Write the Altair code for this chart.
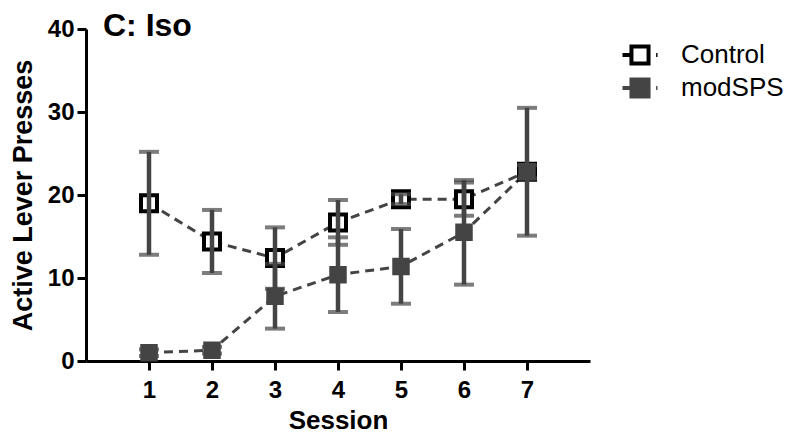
import altair as alt
import pandas as pd

sessions = [1, 2, 3, 4, 5, 6, 7]
series_names = ["Control", "modSPS"]
control_mean = [19.0, 14.4, 12.4, 16.7, 19.5, 19.5, 22.8]
control_err = [6.2, 3.8, 3.7, 2.7, 0.6, 2.0, 0.8]
mod_mean = [1.0, 1.3, 7.8, 10.4, 11.4, 15.5, 22.8]
mod_err = [0.4, 0.4, 3.9, 4.5, 4.5, 6.3, 7.7]
x_ticks = [1, 2, 3, 4, 5, 6, 7]
y_ticks = [0, 10, 20, 30, 40]

rows = []
for s, m, e in zip(sessions, control_mean, control_err):
    rows.append({"Session": s, "series": series_names[0], "mean": m, "lo": m - e, "hi": m + e})
for s, m, e in zip(sessions, mod_mean, mod_err):
    rows.append({"Session": s, "series": series_names[1], "mean": m, "lo": m - e, "hi": m + e})
df = pd.DataFrame(rows)

FONT = "Liberation Sans"
GRAY = "#444444"

x = alt.X("Session:Q", scale=alt.Scale(domain=[0, 8], nice=False),
          axis=alt.Axis(values=x_ticks, title="Session", grid=False, format="d",
                        labelPadding=8, titlePadding=5))
y = alt.Y("mean:Q", scale=alt.Scale(domain=[0, 40], nice=False),
          axis=alt.Axis(values=y_ticks, title="Active Lever Presses", grid=False, format="d",
                        titleFontSize=27, titlePadding=10))

legend_kw = dict(title=None, orient="none", legendX=538, legendY=10,
                 symbolType="M-1.25,0H-0.61 M-0.61,-0.61H0.61V0.61H-0.61Z M1.15,0H1.25",
                 symbolSize=784, symbolStrokeWidth=4,
                 labelFontSize=26, labelFont=FONT, labelColor="black",
                 labelOffset=25, rowPadding=-6)
fill_enc = alt.Fill("series:N", scale=alt.Scale(domain=series_names, range=["white", GRAY]),
                    legend=alt.Legend(**legend_kw))
stroke_enc = alt.Stroke("series:N", scale=alt.Scale(domain=series_names, range=["black", GRAY]),
                        legend=alt.Legend(**legend_kw))

base = alt.Chart(df)

lines = base.mark_line(strokeDash=[9, 6], strokeWidth=3, color=GRAY).encode(
    x=x, y=y, detail="series:N")


def errbars(name):
    d = base.transform_filter(alt.datum.series == name)
    rule = d.mark_rule(strokeWidth=4.5, color=GRAY).encode(x="Session:Q", y="lo:Q", y2="hi:Q")
    cap_lo = d.mark_tick(thickness=4, size=20, color=GRAY, orient="horizontal").encode(x="Session:Q", y="lo:Q")
    cap_hi = d.mark_tick(thickness=4, size=20, color=GRAY, orient="horizontal").encode(x="Session:Q", y="hi:Q")
    return rule + cap_lo + cap_hi


ctrl_pts = base.transform_filter(alt.datum.series == series_names[0]).mark_point(
    shape="square", filled=True, size=256, strokeWidth=4, opacity=1).encode(
    x=x, y=y, fill=fill_enc, stroke=stroke_enc)
mod_pts = base.transform_filter(alt.datum.series == series_names[1]).mark_point(
    shape="square", filled=True, size=210, strokeWidth=3, opacity=1).encode(
    x=x, y=y, fill=fill_enc, stroke=stroke_enc)

chart = alt.layer(
    lines, ctrl_pts, errbars(series_names[0]), errbars(series_names[1]), mod_pts
).properties(
    width=504, height=332,
    padding={"left": 78, "top": 21, "right": 200, "bottom": 78},
    autosize=alt.AutoSizeParams(type="none"),
    title=alt.TitleParams("C: Iso", anchor="start", frame="group", dx=17, offset=-26,
                          fontSize=32, fontWeight="bold", font=FONT, color="black"),
).configure_view(stroke=None).configure_axis(
    domainColor="black", domainWidth=3, tickColor="black", tickWidth=3, tickSize=9,
    labelFont=FONT, labelFontSize=24, labelFontWeight="bold", labelColor="black",
    titleFont=FONT, titleFontSize=26, titleFontWeight="bold", titleColor="black",
    labelPadding=3,
)

chart.save("out.html", embed_options={"renderer": "svg", "actions": False})
